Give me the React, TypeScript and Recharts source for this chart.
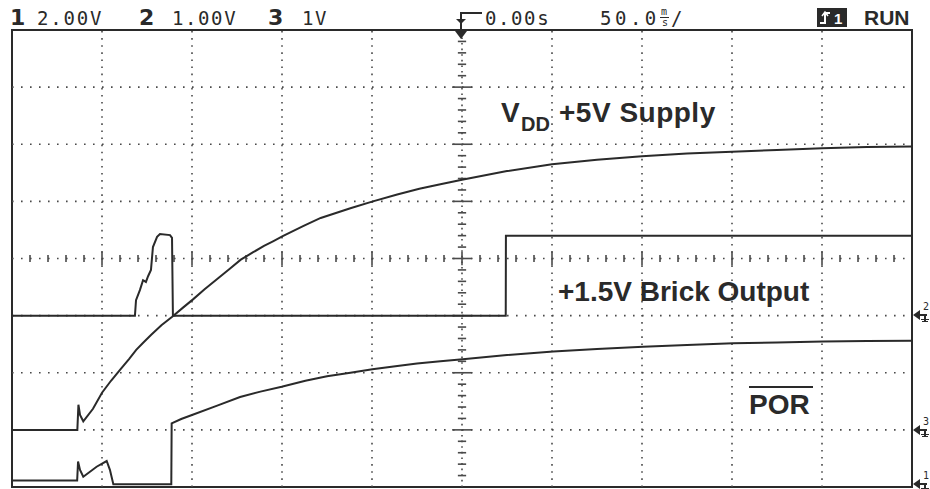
import React from "react";
import { LineChart, Line, XAxis, YAxis, ReferenceLine, ReferenceArea } from "recharts";

// time in ms (50 ms/div, trigger at 0), values in volts
const vddTime = [-250, -213.7, -213.1, -212.2, -210.4, -205, -200, -195, -190, -185, -181, -177, -172.8, -167, -161, -155, -149.6, -143, -136, -129, -122.9, -116, -110, -105, -99.6, -88, -78.5, -62, -49.5, -36, -23.7, -12, 0, 25, 50, 75, 100, 125, 150, 175, 200, 225, 250];
const vddVolts = [0, 0, 0.44, 0.26, 0.15, 0.37, 0.65, 0.86, 1.05, 1.24, 1.4, 1.53, 1.66, 1.83, 1.98, 2.14, 2.28, 2.46, 2.64, 2.82, 2.98, 3.11, 3.22, 3.3, 3.39, 3.57, 3.71, 3.88, 4.0, 4.12, 4.22, 4.3, 4.38, 4.53, 4.65, 4.73, 4.79, 4.84, 4.87, 4.9, 4.93, 4.95, 4.96];

const brickTime = [-250, -181.7, -181.1, -178.9, -177.2, -175.6, -174.4, -172.8, -171.7, -169.4, -167.8, -162.2, -161.1, -160.6, 24.3, 24.4, 250];
const brickVolts = [0, 0, 0.27, 0.45, 0.62, 0.59, 0.69, 0.8, 1.2, 1.38, 1.43, 1.41, 1.36, 0, 0, 1.4, 1.4];

const porTime = [-250, -213.8, -213.3, -212.2, -210.4, -203, -197.4, -195.6, -193.7, -161.5, -161.3, -156, -150, -136, -123.3, -112, -100.2, -87, -75, -62, -49.8, -37, -25, -12, 0.4, 25, 50.7, 75, 100.6, 125, 150.6, 175, 200.6, 225, 250];
const porVolts = [0.23, 0.23, 0.89, 0.6, 0.36, 0.71, 0.91, 0.6, 0.1, 0.1, 2.23, 2.38, 2.52, 2.85, 3.15, 3.34, 3.51, 3.72, 3.88, 4.0, 4.12, 4.23, 4.32, 4.4, 4.47, 4.62, 4.74, 4.83, 4.91, 4.97, 5.03, 5.06, 5.09, 5.11, 5.12];

// channel settings: ground position (divisions from bottom) and volts per division
const vddChannel = { ground: 1, perDiv: 1 };
const brickChannel = { ground: 3, perDiv: 1 };
const porChannel = { ground: 0, perDiv: 2 };

const gridTimes = [-200, -150, -100, -50, 50, 100, 150, 200];
const gridRows = [1, 2, 3, 5, 6, 7];

const INK = "#2a2a2a";
const DOT = "#4a4a4a";

function toDivs(time: number[], volts: number[], ch: { ground: number; perDiv: number }) {
    return time.map((t, i) => ({ t, d: ch.ground + volts[i] / ch.perDiv }));
}

const vddData = toDivs(vddTime, vddVolts, vddChannel);
const brickData = toDivs(brickTime, brickVolts, brickChannel);
const porData = toDivs(porTime, porVolts, porChannel);

const minorX: number[] = [];
for (let k = 1; k < 50; k++) minorX.push(-250 + 10 * k);
const minorY: number[] = [];
for (let k = 1; k < 40; k++) minorY.push(Math.round(k * 20) / 100);

const scopeFont = "'DejaVu Sans Mono', monospace";
const labelFont = "'Liberation Sans', Arial, sans-serif";

function T({ x, y, size, bold, font, children, spacing }: any) {
    return (
        <div
            style={{
                position: "absolute",
                left: x,
                top: y,
                fontSize: size,
                fontWeight: bold ? 700 : 400,
                fontFamily: font,
                lineHeight: 1,
                letterSpacing: spacing || 0,
                color: INK,
                whiteSpace: "nowrap",
            }}
        >
            {children}
        </div>
    );
}

function GroundMark({ y, n }: { y: number; n: string }) {
    return (
        <div style={{ position: "absolute", left: 913, top: y - 6, width: 17, height: 14 }}>
            <div style={{ position: "absolute", left: 0, top: 1, width: 0, height: 0, borderTop: "5px solid transparent", borderBottom: "5px solid transparent", borderRight: `7px solid ${INK}` }} />
            <div style={{ position: "absolute", left: 6, top: 5, width: 8, height: 2, background: INK }} />
            <div style={{ position: "absolute", left: 11, top: 6, width: 2, height: 6, background: INK }} />
            <div style={{ position: "absolute", left: 8, top: 10, width: 8, height: 1, background: INK }} />
            <div style={{ position: "absolute", left: 9, top: 12, width: 6, height: 1, background: INK }} />
            <div style={{ position: "absolute", left: 10, top: -8, fontSize: 10, fontFamily: scopeFont, color: INK }}>{n}</div>
        </div>
    );
}

export default function App() {
    return (
        <div style={{ position: "absolute", left: 0, top: 0, width: 930, height: 489, background: "#fff", overflow: "hidden" }}>
            <LineChart width={930} height={489} margin={{ top: 30, right: 18, bottom: 2, left: 12 }}>
                <XAxis type="number" dataKey="t" domain={[-250, 250]} hide allowDataOverflow />
                <YAxis type="number" domain={[0, 8]} hide allowDataOverflow />
                {gridTimes.map((t) => (
                    <ReferenceLine key={`vx${t}`} x={t} stroke={DOT} strokeWidth={1.6} strokeDasharray="1.6 5.5" />
                ))}
                {gridRows.map((r) => (
                    <ReferenceLine key={`hy${r}`} y={r} stroke={DOT} strokeWidth={1.6} strokeDasharray="1.6 7.4" />
                ))}
                <ReferenceLine x={0} stroke={DOT} strokeWidth={1.6} strokeDasharray="1.6 4" />
                <ReferenceLine y={4} stroke={DOT} strokeWidth={1.6} strokeDasharray="1.6 7.4" />
                {minorX.map((t) => {
                    const h = t % 50 === 0 ? 0.12 : 0.06;
                    return (
                        <ReferenceLine key={`mx${t}`} segment={[{ x: t, y: 4 - h }, { x: t, y: 4 + h }]} stroke={DOT} strokeWidth={1.6} />
                    );
                })}
                {minorY.map((d) => {
                    const w = Number.isInteger(d) ? 5.5 : 2.3;
                    return (
                        <ReferenceLine key={`my${d}`} segment={[{ x: -w, y: d }, { x: w, y: d }]} stroke={DOT} strokeWidth={1.6} />
                    );
                })}
                <Line data={vddData} dataKey="d" type="linear" dot={false} stroke={INK} strokeWidth={2} isAnimationActive={false} />
                <Line data={brickData} dataKey="d" type="linear" dot={false} stroke={INK} strokeWidth={2} isAnimationActive={false} />
                <Line data={porData} dataKey="d" type="linear" dot={false} stroke={INK} strokeWidth={2} isAnimationActive={false} />
                <ReferenceArea x1={-250} x2={250} y1={0} y2={8} fill="none" stroke={INK} strokeWidth={2} ifOverflow="visible" />
            </LineChart>

            {/* scope header */}
            <T x={10} y={7} size={22} bold font="'DejaVu Sans', sans-serif">1</T>
            <T x={37} y={9} size={19} font={scopeFont} spacing={1.8}>2.00V</T>
            <T x={139} y={7} size={22} bold font="'DejaVu Sans', sans-serif">2</T>
            <T x={172} y={9} size={19} font={scopeFont} spacing={1.6}>1.00V</T>
            <T x={268} y={7} size={22} bold font="'DejaVu Sans', sans-serif">3</T>
            <T x={302} y={9} size={19} font={scopeFont} spacing={1.6}>1V</T>

            <div style={{ position: "absolute", left: 460, top: 12, width: 2, height: 18, background: INK }} />
            <div style={{ position: "absolute", left: 460, top: 12, width: 22, height: 2, background: INK }} />
            <div style={{ position: "absolute", left: 456, top: 19, width: 0, height: 0, borderLeft: "5px solid transparent", borderRight: "5px solid transparent", borderTop: `5px solid ${INK}` }} />
            <div style={{ position: "absolute", left: 455, top: 31, width: 0, height: 0, borderLeft: "6px solid transparent", borderRight: "6px solid transparent", borderTop: `8px solid ${INK}` }} />
            <T x={485} y={9} size={19} font={scopeFont} spacing={1.6}>0.00s</T>
            <T x={600} y={9} size={19} font={scopeFont} spacing={3.5}>50.0</T>
            <T x={661} y={7} size={10} font={scopeFont}>m</T>
            <div style={{ position: "absolute", left: 660, top: 17, width: 9, height: 1, background: INK }} />
            <T x={662} y={18} size={10} font={scopeFont}>s</T>
            <T x={671} y={9} size={19} font={scopeFont}>/</T>

            <div style={{ position: "absolute", left: 817, top: 8, width: 30, height: 19, background: INK }}>
                <svg width={30} height={19}>
                    <path d="M3 15 H8 V5 H13" stroke="#fff" strokeWidth={2} fill="none" />
                    <path d="M5 8 L8 4 L11 8" stroke="#fff" strokeWidth={1.5} fill="none" />
                    <text x={17} y={16} fill="#fff" fontSize={15} fontWeight={700} fontFamily="'Liberation Sans', Arial">1</text>
                </svg>
            </div>
            <T x={864} y={7} size={21} bold font={labelFont}>RUN</T>

            {/* trace labels */}
            <T x={501} y={99} size={28} bold font={labelFont}>V</T>
            <T x={521} y={114} size={20} bold font={labelFont}>DD</T>
            <T x={559} y={99} size={28} bold font={labelFont} spacing={0.5}>+5V Supply</T>
            <T x={558} y={278} size={28} bold font={labelFont}>+1.5V Brick Output</T>
            <div style={{ position: "absolute", left: 749, top: 386, width: 64, height: 2, background: INK }} />
            <T x={749} y={391} size={28} bold font={labelFont}>POR</T>

            <GroundMark y={315} n="2" />
            <GroundMark y={430} n="3" />
            <GroundMark y={484} n="1" />
        </div>
    );
}
